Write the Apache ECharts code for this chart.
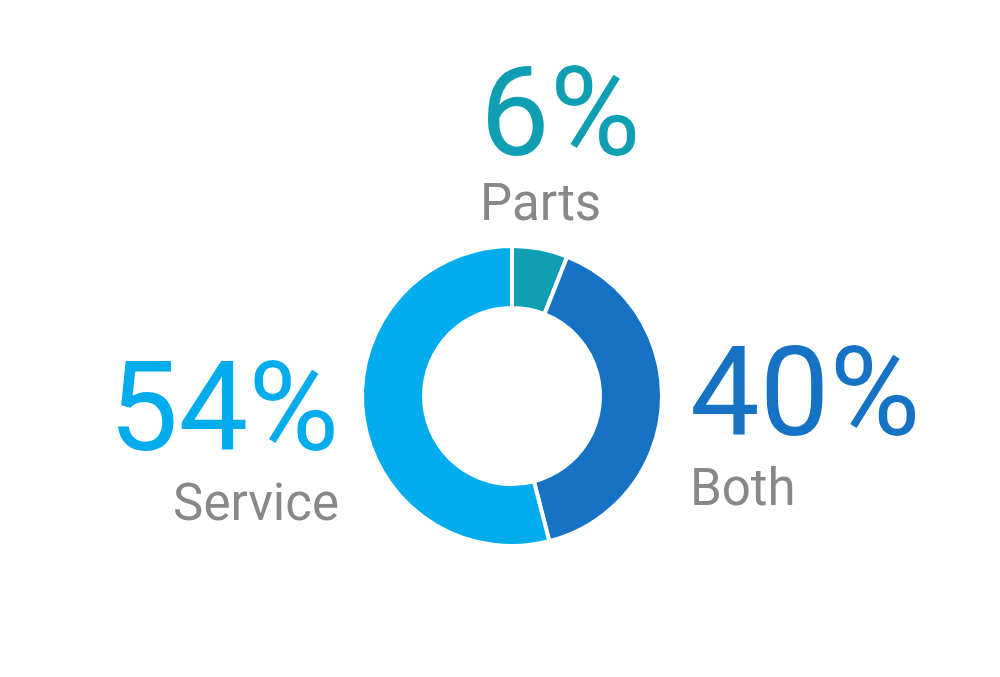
<!DOCTYPE html>
<html>
<head>
<meta charset="utf-8">
<script src="https://cdn.jsdelivr.net/npm/echarts@6/dist/echarts.min.js"></script>
<style>
  html, body { margin: 0; padding: 0; background: #fff; }
  #main { width: 1000px; height: 677px; }
</style>
</head>
<body>
<div id="main"></div>
<script>
// data
const categories = ['Parts', 'Both', 'Service'];
const shares = [6, 40, 54];
const colors = ['#109fb2', '#1672c4', '#00acec'];

// label anchors relative to the pie centre (dx, dy, align, name line height)
const labelAnchors = [
    { dx: -32, dy: -327, align: 'left', nameLine: 56 },
    { dx: 178, dy: -47, align: 'left', nameLine: 66 },
    { dx: -173, dy: -32, align: 'right', nameLine: 66 }
];

const chart = echarts.init(document.getElementById('main'));
const cx = 512, cy = 396;

chart.setOption({
    backgroundColor: '#fff',
    animation: false,
    series: [{
        type: 'pie',
        center: [cx, cy],
        radius: [88, 150],
        startAngle: 90,
        clockwise: true,
        silent: true,
        itemStyle: { borderColor: '#fff', borderWidth: 4 },
        labelLine: { show: false },
        label: {
            show: true,
            position: 'outside',
            fontFamily: 'Roboto',
            formatter: p => '{pct|' + p.value + '%}\n{name|' + p.name + '}'
        },
        labelLayout: params => {
            const a = labelAnchors[params.dataIndex];
            return { x: cx + a.dx, y: cy + a.dy, align: a.align, verticalAlign: 'top' };
        },
        data: categories.map((name, i) => ({
            name: name,
            value: shares[i],
            itemStyle: { color: colors[i] },
            label: {
                align: labelAnchors[i].align,
                rich: {
                    pct: { fontSize: 124, lineHeight: 110, color: colors[i], fontFamily: 'Roboto', align: labelAnchors[i].align },
                    name: { fontSize: 51, lineHeight: labelAnchors[i].nameLine, color: '#888888', fontFamily: 'Roboto', align: labelAnchors[i].align }
                }
            }
        }))
    }]
});
</script>
</body>
</html>
